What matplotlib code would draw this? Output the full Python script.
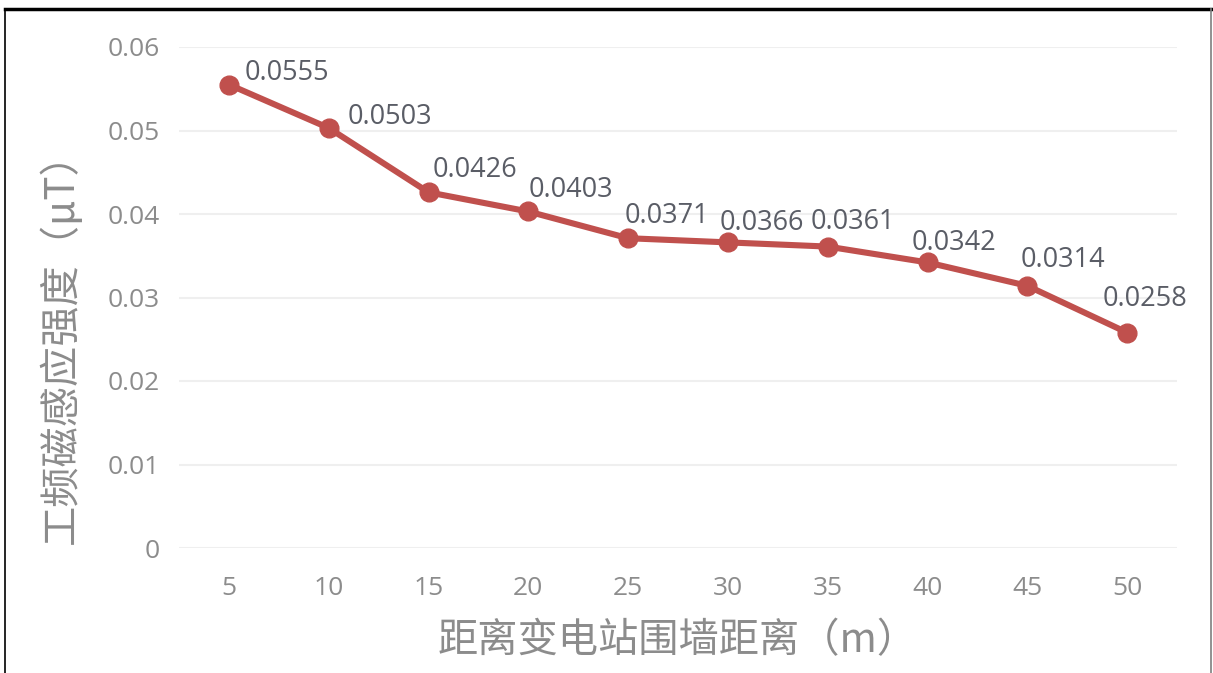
import matplotlib
matplotlib.use("Agg")
import matplotlib.pyplot as plt
from matplotlib.lines import Line2D

plt.rcParams['font.family'] = ['Open Sans', 'Noto Sans CJK SC', 'DejaVu Sans']

distance = [5, 10, 15, 20, 25, 30, 35, 40, 45, 50]
field = [0.0555, 0.0503, 0.0426, 0.0403, 0.0371, 0.0366, 0.0361, 0.0342, 0.0314, 0.0258]
y_ticks = [0, 0.01, 0.02, 0.03, 0.04, 0.05, 0.06]
y_tick_labels = ['0', '0.01', '0.02', '0.03', '0.04', '0.05', '0.06']

# label offsets from each point, in pixels (left edge of text, vertical centre)
label_dx = [16, 19, 4, 0, -3, -8, -17, -16, -7, -24]
label_dy = [12, 11, 22, 21, 22, 19, 25, 19, 26, 34]

fig = plt.figure(figsize=(12.13, 6.73), dpi=100)
ax = fig.add_axes([179 / 1213, 125 / 673, 998 / 1213, 501 / 673])

red = '#C0504D'
ax.plot(distance, field, color=red, lw=4.4, marker='o', markersize=13.5,
        solid_capstyle='round', zorder=3)

for x, y, dx, dy in zip(distance, field, label_dx, label_dy):
    ax.annotate(f'{y:.4f}', (x, y), xytext=(dx, dy), textcoords='offset pixels',
                ha='left', va='center', fontsize=19.5, color='#5a5d66')

ax.set_xlim(2.5, 52.5)
ax.set_ylim(0, 0.06)
ax.set_xticks(distance)
ax.set_xticklabels([str(d) for d in distance])
ax.set_yticks(y_ticks)
ax.set_yticklabels(y_tick_labels)
ax.grid(axis='y', color='#efefef', lw=1.5)
ax.set_axisbelow(True)
for s in ax.spines.values():
    s.set_visible(False)
ax.tick_params(length=0, labelsize=19, labelcolor='#8c8c8c')
ax.tick_params(axis='y', pad=14)
ax.tick_params(axis='x', pad=20)

ax.set_xlabel('距离变电站围墙距离（m）', fontsize=29, color='#8c8c8c',
              family=['Noto Sans CJK SC', 'DejaVu Sans'], labelpad=14)
ax.set_ylabel('工频磁感应强度（μT）', fontsize=29, color='#8c8c8c',
              family=['Noto Sans CJK SC', 'DejaVu Sans'])
# the y title sits a bit below the middle in the original
ax.yaxis.set_label_coords(-0.097, 0.418)

# frame of the screenshot
fig.add_artist(Line2D([5 / 1213, 1211 / 1213], [664 / 673, 664 / 673],
                      transform=fig.transFigure, color='black', lw=2.5))
fig.add_artist(Line2D([5 / 1213, 5 / 1213], [0, 664 / 673],
                      transform=fig.transFigure, color='black', lw=1.2))
fig.add_artist(Line2D([1211 / 1213, 1211 / 1213], [0, 664 / 673],
                      transform=fig.transFigure, color='#7f7f7f', lw=1.2))

fig.savefig('out.png', dpi=100)
